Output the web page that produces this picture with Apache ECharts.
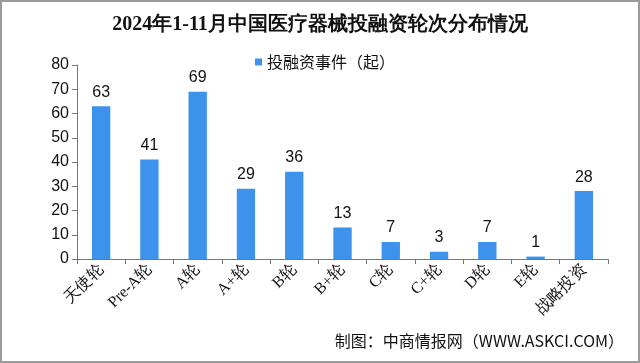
<!DOCTYPE html>
<html><head><meta charset="utf-8">
<script src="https://cdn.jsdelivr.net/npm/echarts@6/dist/echarts.min.js"></script>
<style>html,body{margin:0;padding:0;background:#fff}#c{width:640px;height:363px;box-sizing:border-box;border:2px solid #9a9a9a}</style>
</head><body><div id="c"></div>
<script>
const titleText = '2024年1-11月中国医疗器械投融资轮次分布情况';
const seriesName = '投融资事件（起）';
const categories = ['天使轮','Pre-A轮','A轮','A+轮','B轮','B+轮','C轮','C+轮','D轮','E轮','战略投资'];
const values = [63, 41, 69, 29, 36, 13, 7, 3, 7, 1, 28];
const sourceText = '制图：中商情报网（WWW.ASKCI.COM）';

const chart = echarts.init(document.getElementById('c'), null, {renderer:'canvas'});
chart.setOption({
  animation:false,
  backgroundColor:'#fff',
  title:{text:titleText,left:'center',top:8,textStyle:{fontFamily:'serif',fontSize:20,fontWeight:'bold',color:'#111'}},
  legend:{data:[seriesName],top:47,left:248,icon:'rect',itemWidth:7,itemHeight:7,itemGap:4,
    textStyle:{fontFamily:'Noto Sans CJK SC',fontSize:16,color:'#111'}},
  graphic:[{type:'text',right:14,bottom:12,style:{text:sourceText,fontFamily:'Noto Sans CJK SC',fontSize:16,fill:'#111'}}],
  grid:{left:75,right:30,top:63,bottom:102,containLabel:false},
  xAxis:{type:'category',data:categories,
    axisLine:{lineStyle:{color:'#777'}},
    axisTick:{show:true,alignWithLabel:false,length:5,lineStyle:{color:'#777'}},
    axisLabel:{rotate:45,interval:0,fontFamily:'serif',fontSize:16,color:'#111',margin:8}},
  yAxis:{type:'value',min:0,max:80,interval:10,
    axisLine:{show:true,lineStyle:{color:'#777'}},
    axisTick:{show:true,inside:false,length:5,lineStyle:{color:'#777'}},
    splitLine:{show:false},
    axisLabel:{fontFamily:'Liberation Sans',fontSize:16,color:'#111',margin:8}},
  series:[{name:seriesName,type:'bar',data:values,barWidth:'38%',
    itemStyle:{color:'#3d92ec'},
    label:{show:true,position:'top',fontFamily:'Liberation Sans',fontSize:16,color:'#111',distance:6}}]
});
</script></body></html>
